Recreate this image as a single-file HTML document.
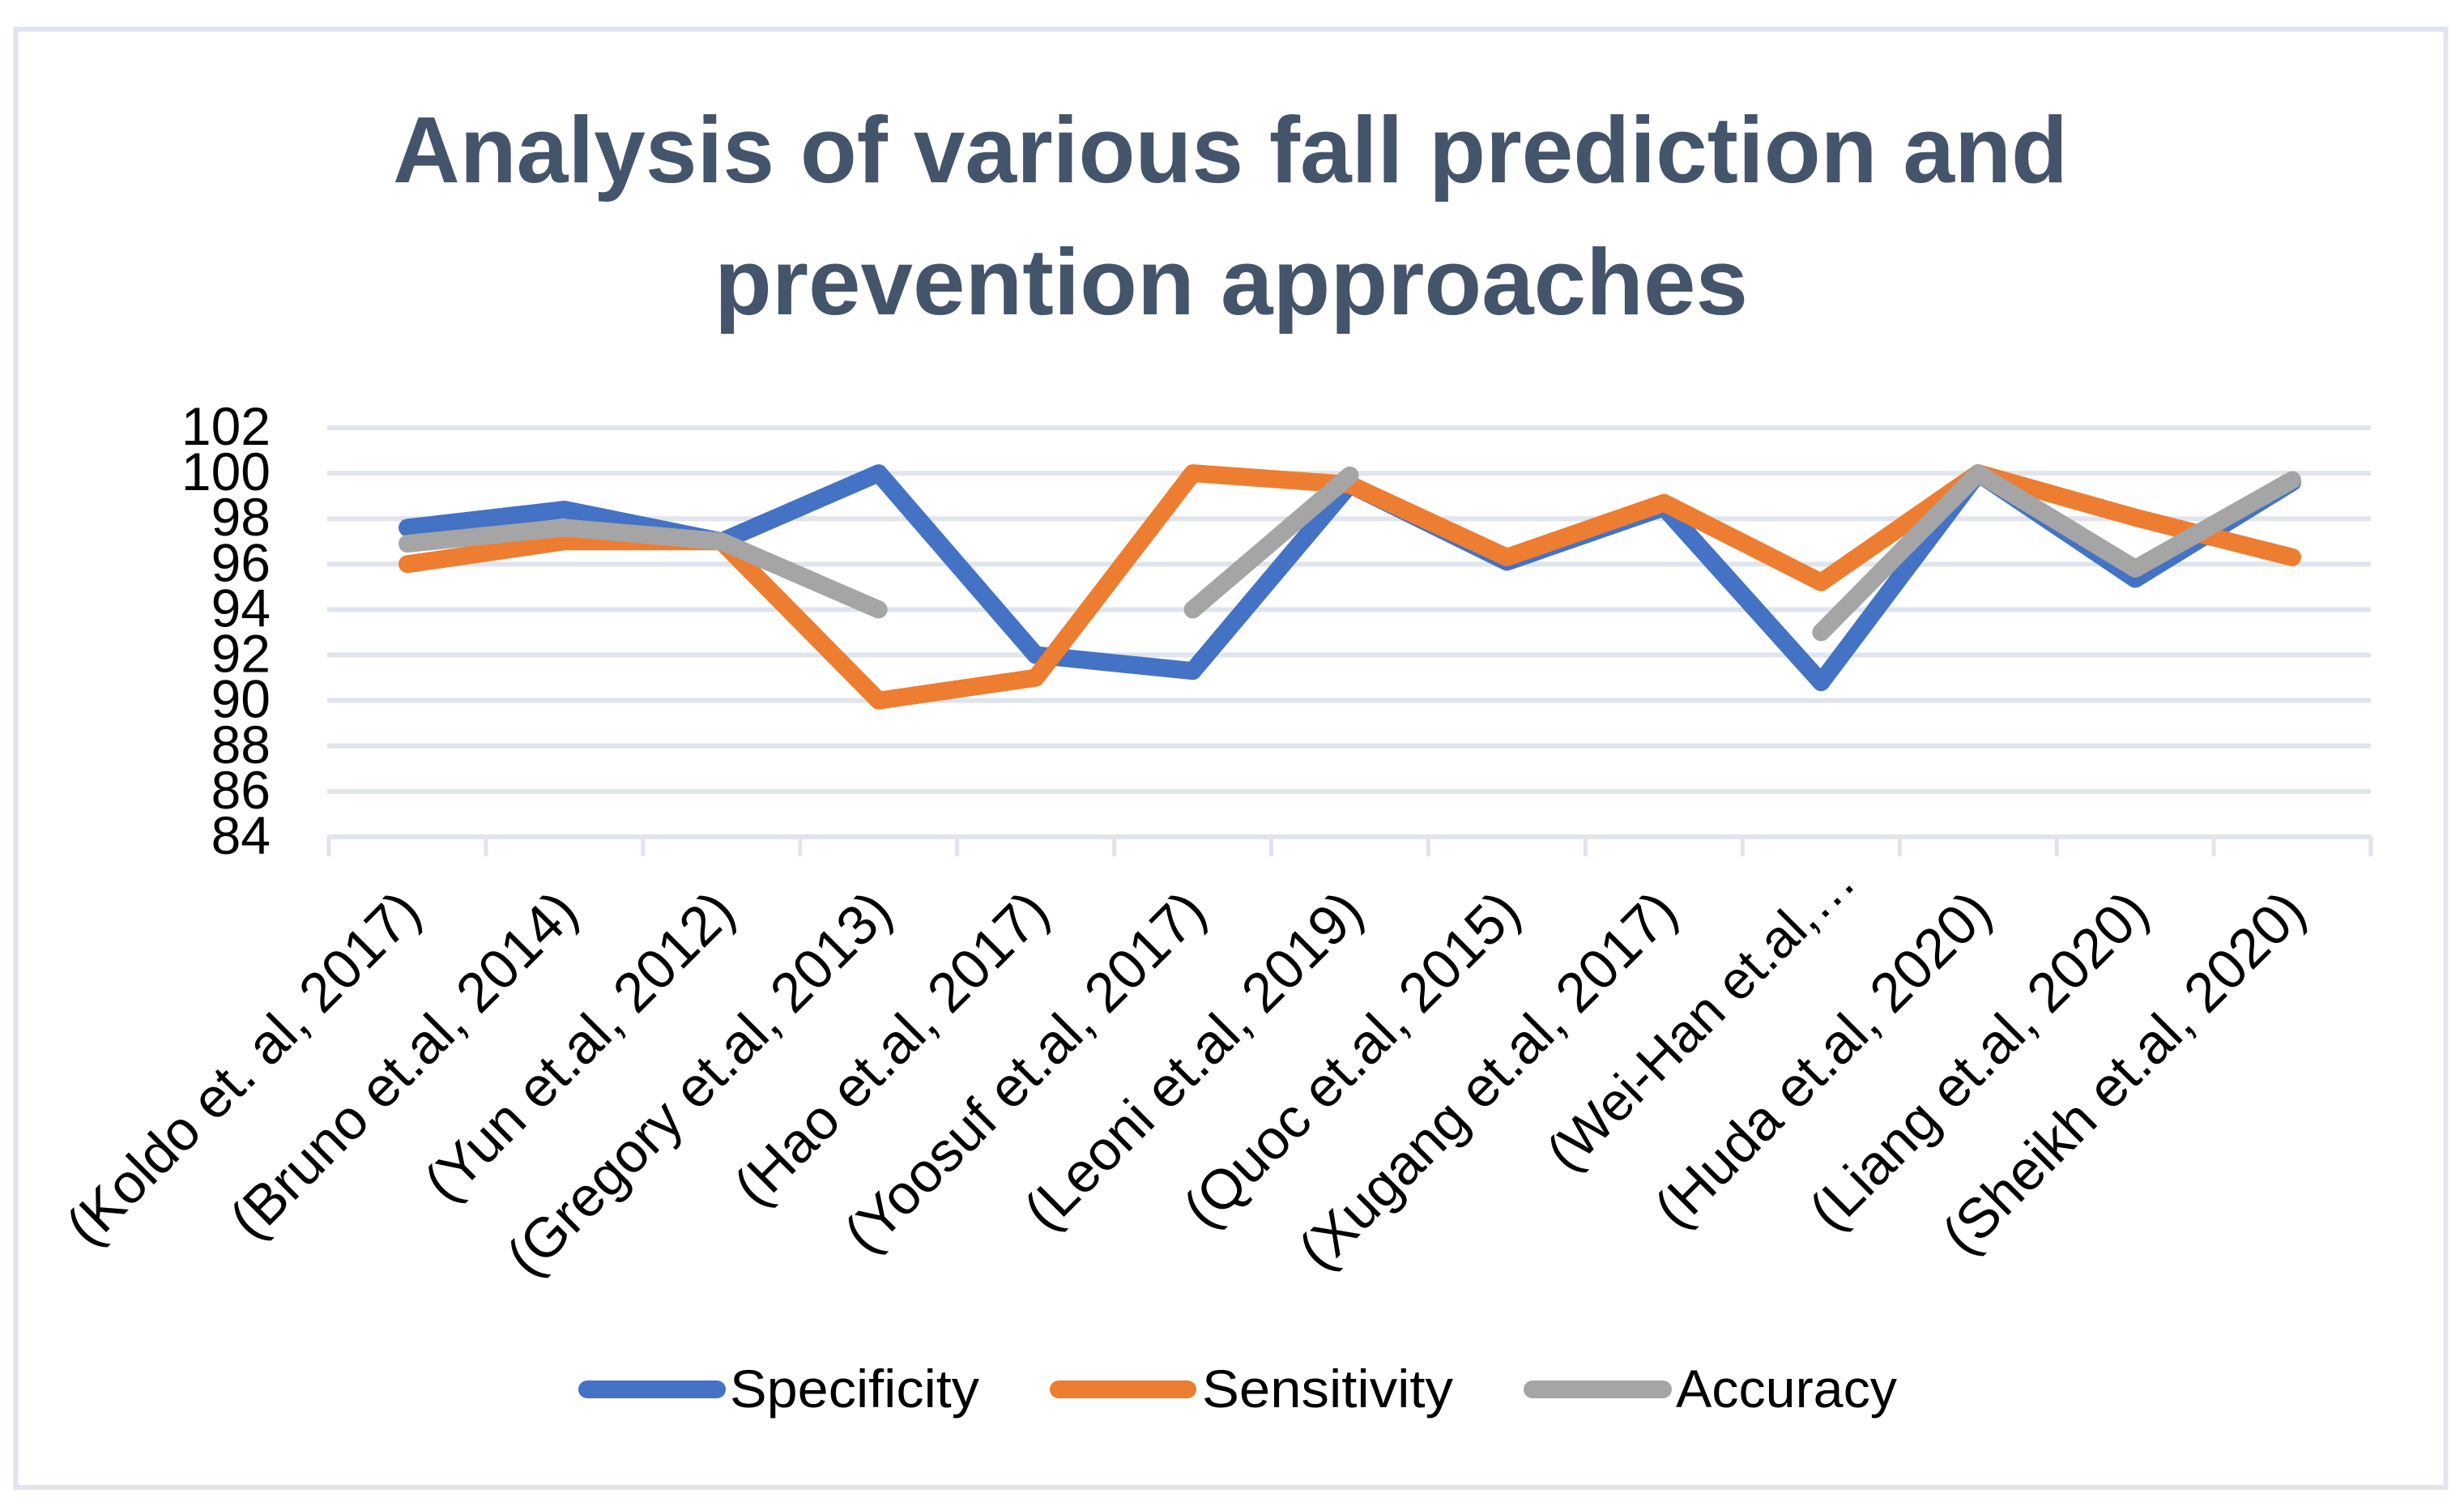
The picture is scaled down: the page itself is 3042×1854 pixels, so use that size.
<!DOCTYPE html>
<html lang="en">
<head>
<meta charset="utf-8">
<title>Analysis of various fall prediction and prevention approaches</title>
<style>
html,body{margin:0;padding:0;background:#fff;width:3042px;height:1854px;overflow:hidden}
svg{display:block}
text{font-family:"Liberation Sans",sans-serif;fill:#000}
</style>
</head>
<body>
<svg id="chart" xmlns="http://www.w3.org/2000/svg" width="3042" height="1854" viewBox="0 0 3042 1854">
  <rect x="19.5" y="36" width="3000" height="1800" fill="#fff" stroke="#e0e4ec" stroke-width="6"/>
  <text x="485" y="225" font-size="116" font-weight="700" style="fill:#44546a" textLength="2068" lengthAdjust="spacingAndGlyphs">Analysis of various fall prediction and</text>
  <text x="882" y="388" font-size="116" font-weight="700" style="fill:#44546a" textLength="1276" lengthAdjust="spacingAndGlyphs">prevention approaches</text>
  <g id="grid"></g>
  <g id="ticks"></g>
  <g id="ylabels"></g>
  <g id="xlabels"></g>
  <g id="series"></g>
  <g>
    <g>
      <line x1="725" y1="1715" x2="885" y2="1715" stroke="#4472c4" stroke-width="22" stroke-linecap="round"/>
      <text x="901" y="1737" font-size="66" textLength="308" lengthAdjust="spacingAndGlyphs">Specificity</text>
    </g>
    <g>
      <line x1="1307" y1="1715" x2="1466" y2="1715" stroke="#ed7d31" stroke-width="22" stroke-linecap="round"/>
      <text x="1484" y="1737" font-size="66" textLength="310" lengthAdjust="spacingAndGlyphs">Sensitivity</text>
    </g>
    <g>
      <line x1="1892" y1="1715" x2="2053" y2="1715" stroke="#a5a5a5" stroke-width="22" stroke-linecap="round"/>
      <text x="2069" y="1737" font-size="66" textLength="273" lengthAdjust="spacingAndGlyphs">Accuracy</text>
    </g>
  </g>
</svg>
<script>
const categories = ["(Koldo et. al, 2017)","(Bruno et.al, 2014)","(Yun et.al, 2012)","(Gregory et.al, 2013)","(Hao et.al, 2017)","(Yoosuf et.al, 2017)","(Leoni et.al, 2019)","(Quoc et.al, 2015)","(Xugang et.al, 2017)","(Wei-Han et.al,…","(Huda et.al, 2020)","(Liang et.al, 2020)","(Sheikh et.al, 2020)"];
const yTicks = [84,86,88,90,92,94,96,98,100,102];
const specificity = [97.6,98.4,97,100,92,91.3,99.5,96.1,98.5,90.8,100,95.35,99.6];
const sensitivity = [96,97,97,90,91,100,99.5,96.3,98.7,95.2,100,98.05,96.3];
const accuracy = [96.9,97.6,97,94,null,94,99.9,null,null,93,100,95.8,99.7];

const NS = 'http://www.w3.org/2000/svg';
const plotLeft = 406, plotRight = 2927, yTop = 528, yBottom = 1033, yMin = 84, yMax = 102;
const band = (plotRight - plotLeft) / categories.length;
function xScale(i){ return plotLeft + (i + 0.5) * band; }
function yScale(v){ return yBottom - (v - yMin) / (yMax - yMin) * (yBottom - yTop); }
function make(tag, attrs, parent){
  const el = document.createElementNS(NS, tag);
  for (const k in attrs) el.setAttribute(k, attrs[k]);
  parent.appendChild(el);
  return el;
}
const grid = document.getElementById('grid');
const ylabels = document.getElementById('ylabels');
yTicks.forEach(function(t){
  const isAxis = t === yMin;
  const l = make('line', {x1: plotLeft - 2, x2: plotRight, y1: yScale(t), y2: yScale(t), stroke: '#e0e4ec', 'stroke-width': 6}, grid);
  
  
  const txt = make('text', {x: 334, y: yScale(t) + 21, 'text-anchor': 'end', 'font-size': 66}, ylabels);
  txt.textContent = String(t);
  
  
});
const ticks = document.getElementById('ticks');
for (let i = 0; i <= categories.length; i++){
  const x = plotLeft + i * band;
  const l = make('line', {x1: x, x2: x, y1: yBottom, y2: yBottom + 24, stroke: '#e0e4ec', 'stroke-width': 5}, ticks);
  
  
}
const xlabels = document.getElementById('xlabels');
categories.forEach(function(c, i){
  const truncated = c.endsWith('…');
  const ax = xScale(i) + 20 + (truncated ? 26 : 0);
  const ay = 1129 + (truncated ? -37 : 0);
  const t = make('text', {x: ax, y: ay, 'text-anchor': 'end', 'font-size': truncated ? 66 : 69, transform: 'rotate(-45 ' + ax + ' ' + ay + ')'}, xlabels);
  t.textContent = c;
  
  
});
function linePath(values){
  let d = '', pen = false;
  values.forEach(function(v, i){
    if (v === null){ pen = false; return; }
    d += (pen ? 'L' : 'M') + xScale(i).toFixed(1) + ' ' + yScale(v).toFixed(1);
    pen = true;
  });
  return d;
}
const seriesGroup = document.getElementById('series');
const specificityLine = make('path', {d: linePath(specificity), fill: 'none', stroke: '#4472c4', 'stroke-width': 22, 'stroke-linecap': 'round', 'stroke-linejoin': 'round'}, seriesGroup);


const sensitivityLine = make('path', {d: linePath(sensitivity), fill: 'none', stroke: '#ed7d31', 'stroke-width': 22, 'stroke-linecap': 'round', 'stroke-linejoin': 'round'}, seriesGroup);


const accuracyLine = make('path', {d: linePath(accuracy), fill: 'none', stroke: '#a5a5a5', 'stroke-width': 22, 'stroke-linecap': 'round', 'stroke-linejoin': 'round'}, seriesGroup);


</script>
</body>
</html>
